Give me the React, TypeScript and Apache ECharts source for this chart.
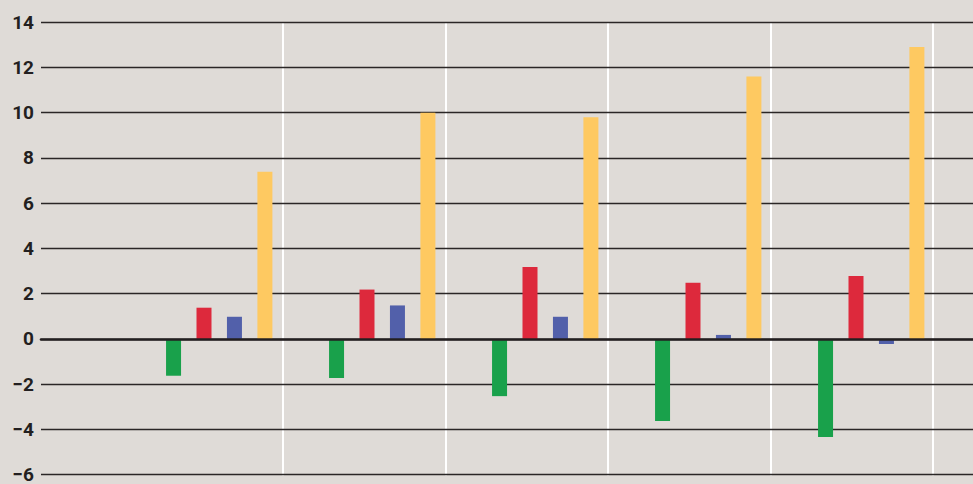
import React, { useEffect, useRef } from "react";
import * as echarts from "echarts";

const categories = ["1", "2", "3", "4", "5"];
const emptySlot = [null, null, null, null, null];
const greenValues = [-1.6, -1.7, -2.5, -3.6, -4.3];
const redValues = [1.4, 2.2, 3.2, 2.5, 2.8];
const blueValues = [1.0, 1.5, 1.0, 0.2, -0.2];
const yellowValues = [7.4, 10.0, 9.8, 11.6, 12.9];
const yTicks = { min: -6, max: 14, interval: 2 };

const BG = "#dfdbd7";
const INK = "#231f20";

export default function App() {
  const ref = useRef<HTMLDivElement>(null);
  useEffect(() => {
    if (!ref.current) return;
    const chart = echarts.init(ref.current, null, { renderer: "svg" });
    const top = 22;
    const bottom = 8.5;
    const hiddenY = (gridIndex: number) => ({
      type: "value",
      gridIndex,
      min: yTicks.min,
      max: yTicks.max,
      interval: yTicks.interval,
      show: false,
    });
    const bar = (name: string, data: (number | null)[], color: string) => ({
      name,
      type: "bar",
      xAxisIndex: 1,
      yAxisIndex: 1,
      data,
      barWidth: 15,
      barGap: "103%",
      itemStyle: { color },
      z: 2,
    });
    chart.setOption({
      animation: false,
      backgroundColor: BG,
      grid: [
        { left: 41, right: 0, top, bottom },
        { left: 122.5, right: 35.5, top, bottom },
        { left: 283, right: 40, top, bottom },
      ],
      xAxis: [
        {
          type: "value",
          gridIndex: 0,
          min: 0,
          max: 1,
          z: 3,
          axisLine: { show: true, onZero: true, lineStyle: { color: INK, width: 2.6 } },
          axisTick: { show: false },
          axisLabel: { show: false },
          splitLine: { show: false },
        },
        {
          type: "category",
          gridIndex: 1,
          data: categories,
          axisLine: { show: false },
          axisTick: { show: false },
          axisLabel: { show: false },
          splitLine: { show: false },
        },
        {
          type: "value",
          gridIndex: 2,
          min: 0,
          max: 4,
          interval: 1,
          z: 0,
          axisLine: { show: false },
          axisTick: { show: false },
          axisLabel: { show: false },
          splitLine: { show: true, lineStyle: { color: "#ffffff", width: 2 } },
        },
      ],
      yAxis: [
        {
          type: "value",
          gridIndex: 0,
          min: yTicks.min,
          max: yTicks.max,
          interval: yTicks.interval,
          z: 1,
          axisLine: { show: false },
          axisTick: { show: false },
          axisLabel: {
            margin: 7,
            color: INK,
            fontFamily: "Roboto",
            fontWeight: "bold",
            fontSize: 19,
            formatter: (v: number) => String(v).replace("-", "\u2212"),
          },
          splitLine: { show: true, lineStyle: { color: "#2a2626", width: 1.3 } },
        },
        hiddenY(1),
        hiddenY(2),
      ],
      series: [
        bar("Empty", emptySlot, "transparent"),
        bar("Green", greenValues, "#19a14b"),
        bar("Red", redValues, "#dd293c"),
        bar("Blue", blueValues, "#5260aa"),
        bar("Yellow", yellowValues, "#fec961"),
      ],
    });
    return () => chart.dispose();
  }, []);
  return (
    <div
      ref={ref}
      style={{ position: "absolute", left: 0, top: 0, width: 973, height: 484 }}
    />
  );
}
